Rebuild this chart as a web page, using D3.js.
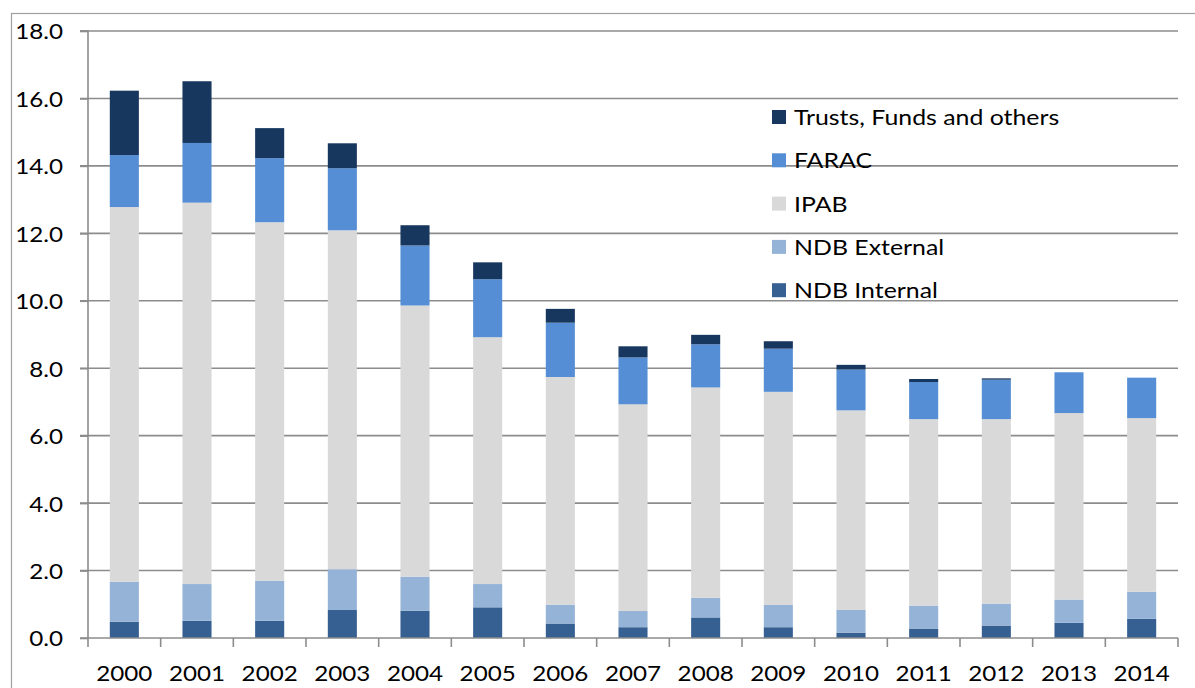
<!DOCTYPE html>
<html>
<head>
<meta charset="utf-8">
<script src="https://cdn.jsdelivr.net/npm/d3@7"></script>
<style>
  html, body { margin: 0; padding: 0; background: #fff; }
  svg { display: block; }
  text { font-family: Lato, "Open Sans", sans-serif; fill: #000; }
</style>
</head>
<body>
<svg id="chart" width="1195" height="688"></svg>
<script>
const years = ["2000","2001","2002","2003","2004","2005","2006","2007","2008","2009","2010","2011","2012","2013","2014"];
const seriesNames = ["NDB Internal","NDB External","IPAB","FARAC","Trusts, Funds and others"];
const ndbInternal = [0.48,0.51,0.51,0.83,0.81,0.91,0.43,0.32,0.61,0.32,0.16,0.28,0.37,0.45,0.57];
const ndbExternal = [1.19,1.09,1.19,1.21,1.01,0.69,0.56,0.48,0.58,0.66,0.67,0.68,0.65,0.69,0.80];
const ipab        = [11.11,11.31,10.63,10.05,8.04,7.32,6.75,6.13,6.24,6.32,5.92,5.53,5.47,5.53,5.15];
const farac       = [1.54,1.77,1.90,1.84,1.78,1.72,1.61,1.39,1.28,1.28,1.21,1.10,1.17,1.21,1.20];
const trusts      = [1.91,1.83,0.89,0.74,0.60,0.50,0.41,0.33,0.28,0.22,0.14,0.09,0.04,0.00,0.00];
const yTicks = [0,2,4,6,8,10,12,14,16,18];
const colors = ["#376092","#95B3D7","#D9D9D9","#558ED5","#17375E"];

const svg = d3.select("#chart");
const mLeft = 88, mRight = 1178, mTop = 31, mBottom = 638;

// outer border
svg.append("rect").attr("x", 11.5).attr("y", 13.5).attr("width", 1300).attr("height", 800)
  .attr("fill", "none").attr("stroke", "#a0a0a0").attr("stroke-width", 1.2);

const x = d3.scaleBand().domain(years).range([mLeft, mRight]).paddingInner(0.6).paddingOuter(0.3);
const xb = d3.scaleBand().domain(years).range([mLeft, mRight]);
const y = d3.scaleLinear().domain([0, 18]).range([mBottom, mTop]);

// gridlines
svg.append("g").selectAll("line").data(yTicks.filter(d => d > 0)).join("line")
  .attr("x1", mLeft - 8).attr("x2", mRight)
  .attr("y1", d => y(d)).attr("y2", d => y(d))
  .attr("stroke", "#8c8c8c").attr("stroke-width", 1.6);

const table = years.map((yr, i) => ({
  year: yr,
  "NDB Internal": ndbInternal[i],
  "NDB External": ndbExternal[i],
  "IPAB": ipab[i],
  "FARAC": farac[i],
  "Trusts, Funds and others": trusts[i]
}));
const stack = d3.stack().keys(seriesNames)(table);

svg.append("g").selectAll("g").data(stack).join("g")
  .attr("fill", (d, i) => colors[i])
  .selectAll("rect").data(d => d).join("rect")
  .attr("x", d => x(d.data.year))
  .attr("width", x.bandwidth())
  .attr("y", d => y(d[1]))
  .attr("height", d => Math.max(0, y(d[0]) - y(d[1])));

// y axis
const yAxis = svg.append("g").attr("transform", `translate(${mLeft},0)`)
  .call(d3.axisLeft(y).tickValues(yTicks).tickSize(8).tickFormat(d3.format(".1f")));
yAxis.select(".domain").attr("stroke", "#8c8c8c").attr("stroke-width", 1.6).attr("d", `M-8,${mTop}H0V${mBottom}`);
yAxis.selectAll(".tick line").attr("stroke", "#8c8c8c").attr("stroke-width", 1.6);
yAxis.selectAll(".tick text").attr("x", 0).attr("dy", "0.36em")
  .attr("transform", "translate(-25,0) scale(1.1,1)")
  .style("font-size", "22px").style("font-family", "Lato, sans-serif");

// x axis
const xAxis = svg.append("g").attr("transform", `translate(0,${mBottom})`)
  .call(d3.axisBottom(xb).tickSize(0).tickFormat(d => d));
xAxis.select(".domain").attr("stroke", "#8c8c8c").attr("stroke-width", 1.6).attr("d", `M${mLeft - 8},0H${mRight}`);
xAxis.selectAll(".tick text").attr("y", 0).attr("dy", 0)
  .attr("transform", "translate(0,43) scale(1.1,1)")
  .style("font-size", "22px").style("font-family", "Lato, sans-serif");
// boundary tick marks
const bounds = years.map(d => xb(d)).concat([mRight]);
svg.append("g").selectAll("line").data(bounds).join("line")
  .attr("x1", d => d).attr("x2", d => d)
  .attr("y1", mBottom).attr("y2", mBottom + 9)
  .attr("stroke", "#8c8c8c").attr("stroke-width", 1.6);

// legend
const legendOrder = seriesNames.map((n, i) => ({ name: n, color: colors[i] })).reverse();
const lg = svg.append("g").selectAll("g").data(legendOrder).join("g")
  .attr("transform", (d, i) => `translate(772,${117 + i * 43.3})`);
lg.append("rect").attr("x", 0).attr("y", -7).attr("width", 14).attr("height", 14).attr("fill", d => d.color);
lg.append("text").attr("transform", "translate(22,8) scale(1.13,1)").text(d => d.name)
  .style("font-size", "22px");
</script>
</body>
</html>
